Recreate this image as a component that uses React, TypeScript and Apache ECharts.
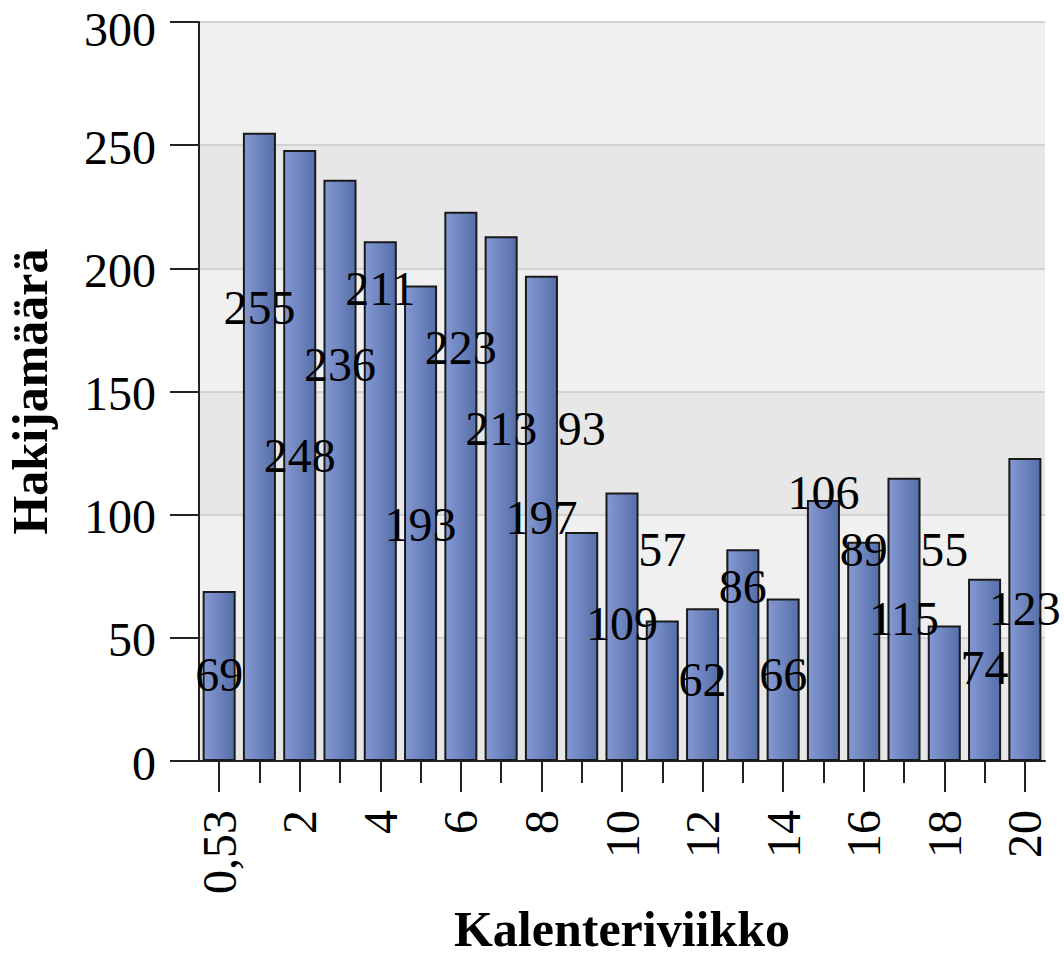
import React, { useEffect, useRef } from "react";
import * as echarts from "echarts";

const weeks = ["0,53", "1", "2", "3", "4", "5", "6", "7", "8", "9", "10", "11", "12", "13", "14", "15", "16", "17", "18", "19", "20"];
const applicants = [69, 255, 248, 236, 211, 193, 223, 213, 197, 93, 109, 57, 62, 86, 66, 106, 89, 115, 55, 74, 123];
// vertical level (in axis units) at which each value label sits in the original picture
const labelLevels = [35, 184, 124, 161, 192, 96, 168, 135, 99, 135, 56, 86, 33, 71, 35, 109, 86, 58, 86, 38, 62];
const yMin = 0;
const yMax = 300;
const yStep = 50;

const SERIF = "'Liberation Serif', 'Times New Roman', serif";

export default function App() {
  const ref = useRef<HTMLDivElement>(null);

  useEffect(() => {
    if (!ref.current) return;
    const chart = echarts.init(ref.current, undefined, { renderer: "svg" });
    const axisColor = "#222";
    chart.setOption({
      animation: false,
      backgroundColor: "#ffffff",
      grid: {
        left: 199,
        top: 22,
        right: 19,
        bottom: 196,
        containLabel: false,
        outerBoundsMode: "none",
      },
      xAxis: [
        {
          type: "category",
          data: weeks,
          position: "bottom",
          boundaryGap: true,
          axisLine: { show: true, lineStyle: { color: axisColor, width: 2 } },
          axisTick: { show: true, interval: 0, alignWithLabel: true, length: 22, lineStyle: { color: axisColor, width: 2 } },
          axisLabel: { show: false },
          splitLine: { show: false },
        },
        {
          type: "category",
          data: weeks,
          position: "bottom",
          boundaryGap: true,
          axisLine: { show: false },
          axisTick: { show: true, interval: 1, alignWithLabel: true, length: 31, lineStyle: { color: axisColor, width: 2 } },
          axisLabel: {
            show: true,
            interval: 1,
            rotate: 90,
            margin: 49,
            fontSize: 48,
            fontFamily: SERIF,
            color: "#000",
          },
          splitLine: { show: false },
          name: "Kalenteriviikko",
          nameLocation: "middle",
          nameGap: 143,
          nameTextStyle: { fontSize: 50, lineHeight: 50, fontWeight: "bold", fontFamily: SERIF, color: "#000" },
        },
      ],
      yAxis: {
        type: "value",
        min: yMin,
        max: yMax,
        interval: yStep,
        axisLine: { show: true, lineStyle: { color: axisColor, width: 2 } },
        axisTick: { show: true, length: 29, lineStyle: { color: axisColor, width: 2 } },
        axisLabel: {
          margin: 43,
          fontSize: 48,
          lineHeight: 36,
          padding: [4, 0, 0, 0],
          fontFamily: SERIF,
          color: "#000",
          formatter: (v: number) => (v === yMax ? "{top|" + v + "}" : String(v)),
          rich: {
            top: { fontSize: 48, lineHeight: 36, padding: [11, 0, 0, 0], fontFamily: SERIF, color: "#000" },
          },
        },
        splitLine: { show: true, lineStyle: { color: "#d2d2d2", width: 2 } },
        splitArea: { show: true, areaStyle: { color: ["#e7e7e7", "#f0f0f0"] } },
        name: "Hakijamäärä",
        nameLocation: "middle",
        nameRotate: 90,
        nameGap: 144,
        nameTextStyle: { fontSize: 50, fontWeight: "bold", fontFamily: SERIF, color: "#000" },
      },
      series: [
        {
          type: "bar",
          xAxisIndex: 0,
          data: applicants,
          barCategoryGap: "18%",
          itemStyle: {
            color: new echarts.graphic.LinearGradient(0, 0, 1, 0, [
              { offset: 0, color: "#8599d3" },
              { offset: 1, color: "#566fa9" },
            ]),
            borderColor: "#1a1a1a",
            borderWidth: 2,
          },
          label: { show: false },
          z: 2,
        },
        {
          type: "scatter",
          xAxisIndex: 0,
          symbolSize: 1,
          itemStyle: { color: "rgba(0,0,0,0)", opacity: 1 },
          data: labelLevels.map((lv, i) => [i, lv, applicants[i]]),
          label: {
            show: true,
            position: "inside",
            formatter: (p: any) => String(p.value[2]),
            fontSize: 48,
            fontFamily: SERIF,
            color: "#000",
            opacity: 1,
          },
          z: 5,
        },
      ],
    });
    return () => chart.dispose();
  }, []);

  return (
    <div
      ref={ref}
      style={{ position: "absolute", left: 0, top: 0, width: 1064, height: 957 }}
    />
  );
}
